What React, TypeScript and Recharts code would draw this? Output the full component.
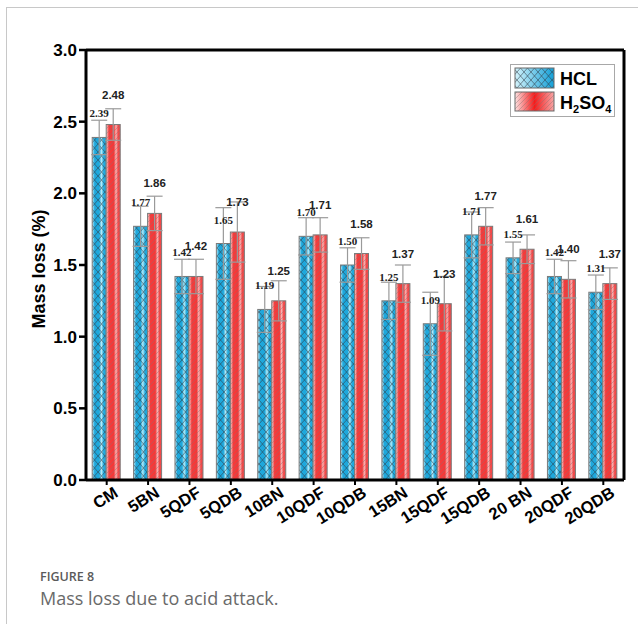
import React from 'react';
import { BarChart, Bar, XAxis, YAxis, ErrorBar, LabelList } from 'recharts';

// Mass loss (%) after acid attack, per mix
const categories = ['CM', '5BN', '5QDF', '5QDB', '10BN', '10QDF', '10QDB', '15BN', '15QDF', '15QDB', '20 BN', '20QDF', '20QDB'];
const hclValues = [2.39, 1.77, 1.42, 1.65, 1.19, 1.70, 1.50, 1.25, 1.09, 1.71, 1.55, 1.42, 1.31];
const h2so4Values = [2.48, 1.86, 1.42, 1.73, 1.25, 1.71, 1.58, 1.37, 1.23, 1.77, 1.61, 1.40, 1.37];
const hclErrors = [0.12, 0.14, 0.12, 0.25, 0.16, 0.13, 0.12, 0.13, 0.22, 0.16, 0.11, 0.12, 0.12];
const h2so4Errors = [0.11, 0.12, 0.12, 0.21, 0.14, 0.12, 0.11, 0.13, 0.19, 0.13, 0.10, 0.13, 0.11];
const yTicks = [0, 0.5, 1.0, 1.5, 2.0, 2.5, 3.0];

const data = categories.map((name, i) => ({
  name,
  hcl: hclValues[i],
  h2so4: h2so4Values[i],
  hclErr: hclErrors[i],
  h2so4Err: h2so4Errors[i],
}));

const SANS = 'Arial, "Liberation Sans", Helvetica, sans-serif';
const SERIF = '"Times New Roman", "Liberation Serif", serif';

const makeBarShape = (gradId: string, patternId: string) => (props: any) => {
  const { x, y, width, height } = props;
  if (!height || height <= 0) return <g />;
  return (
    <g>
      <rect x={x} y={y} width={width} height={height} fill={`url(#${gradId})`} />
      <rect x={x} y={y} width={width} height={height} fill={`url(#${patternId})`} />
      <rect x={x} y={y} width={width} height={height} fill="none" stroke="#7a7a7a" strokeWidth={1} />
    </g>
  );
};

const hclShape = makeBarShape('gradHcl', 'hatchHcl');
const h2so4Shape = makeBarShape('gradH2so4', 'hatchH2so4');

const hclLabel = (p: any) => (
  <text
    x={Number(p.x) + Number(p.width) / 2}
    y={Number(p.y) - 20}
    textAnchor="middle"
    fontFamily={SERIF}
    fontWeight={700}
    fontSize={11}
    fill="#222"
  >
    {Number(p.value).toFixed(2)}
  </text>
);

const h2so4Label = (p: any) => (
  <text
    x={Number(p.x) + Number(p.width) / 2}
    y={Number(p.y) - 26}
    textAnchor="middle"
    fontFamily={SANS}
    fontWeight={700}
    fontSize={11.5}
    fill="#222"
  >
    {Number(p.value).toFixed(2)}
  </text>
);

const XTick = (props: any) => {
  const { x, y, payload } = props;
  return (
    <g transform={`translate(${x},${y})`}>
      <text
        transform="rotate(-32)"
        x={6}
        y={14}
        textAnchor="end"
        fontFamily={SANS}
        fontWeight={700}
        fontSize={16.5}
        fill="#000"
      >
        {payload.value}
      </text>
    </g>
  );
};

const YLabel = (props: any) => {
  const vb = props.viewBox || { x: 0, y: 50, width: 86, height: 430 };
  const cx = vb.x + 40;
  const cy = vb.y + vb.height / 2 + 4;
  return (
    <text
      x={cx}
      y={cy}
      transform={`rotate(-90, ${cx}, ${cy})`}
      textAnchor="middle"
      dominantBaseline="middle"
      fontFamily={SANS}
      fontWeight={700}
      fontSize={18}
      fill="#000"
    >
      Mass loss (%)
    </text>
  );
};

const Defs = () => (
  <svg width={0} height={0} style={{ position: 'absolute' }}>
    <defs>
      <linearGradient id="gradHcl" x1="0" y1="0" x2="1" y2="0">
        <stop offset="0" stopColor="#c4eefa" />
        <stop offset="0.18" stopColor="#1ea8dc" />
        <stop offset="0.5" stopColor="#1ea8dc" />
        <stop offset="0.66" stopColor="#b3eaf8" />
        <stop offset="0.82" stopColor="#22aadd" />
        <stop offset="1" stopColor="#1ea8dc" />
      </linearGradient>
      <linearGradient id="gradH2so4" x1="0" y1="0" x2="1" y2="0">
        <stop offset="0" stopColor="#fcd8d8" />
        <stop offset="0.2" stopColor="#f43c3c" />
        <stop offset="0.55" stopColor="#f33838" />
        <stop offset="0.7" stopColor="#fab2b2" />
        <stop offset="0.85" stopColor="#f44848" />
        <stop offset="1" stopColor="#f44848" />
      </linearGradient>
      <linearGradient id="legendHcl" x1="0" y1="0" x2="1" y2="0">
        <stop offset="0" stopColor="#d4f3fb" />
        <stop offset="1" stopColor="#129fd7" />
      </linearGradient>
      <linearGradient id="legendH2so4" x1="0" y1="0" x2="1" y2="0">
        <stop offset="0" stopColor="#fde2e2" />
        <stop offset="0.5" stopColor="#f41c1c" />
        <stop offset="1" stopColor="#f8a6a6" />
      </linearGradient>
      <pattern id="hatchHcl" patternUnits="userSpaceOnUse" width={7} height={8}>
        <path d="M0,0 L7,8 M7,0 L0,8" stroke="#2e3c46" strokeWidth={0.7} strokeOpacity={0.8} fill="none" />
      </pattern>
      <pattern id="hatchH2so4" patternUnits="userSpaceOnUse" width={5} height={5}>
        <path d="M0,5 L5,0 M-1,1 L1,-1 M4,6 L6,4" stroke="#8a7070" strokeWidth={0.6} strokeOpacity={0.7} fill="none" />
      </pattern>
    </defs>
  </svg>
);

const Legend = () => (
  <div
    style={{
      position: 'absolute',
      left: 510,
      top: 64,
      width: 105,
      height: 53,
      border: '1px solid #a8a8a8',
      background: '#fff',
      boxSizing: 'border-box',
    }}
  >
    <svg width={105} height={53} style={{ position: 'absolute', left: -1, top: -1 }}>
      <rect x={5} y={4} width={39} height={20} fill="url(#legendHcl)" />
      <rect x={5} y={4} width={39} height={20} fill="url(#hatchHcl)" />
      <rect x={5} y={4} width={39} height={20} fill="none" stroke="#6a6a6a" strokeWidth={1} />
      <rect x={5} y={28} width={39} height={19} fill="url(#legendH2so4)" />
      <rect x={5} y={28} width={39} height={19} fill="url(#hatchH2so4)" />
      <rect x={5} y={28} width={39} height={19} fill="none" stroke="#6a6a6a" strokeWidth={1} />
      <text x={50} y={21} fontFamily={SANS} fontWeight={700} fontSize={18} fill="#000">HCL</text>
      <text x={50} y={45} fontFamily={SANS} fontWeight={700} fontSize={18} fill="#000">
        H
        <tspan fontSize={11} dy={4}>2</tspan>
        <tspan dy={-4}>SO</tspan>
        <tspan fontSize={11} dy={4}>4</tspan>
      </text>
    </svg>
  </div>
);

export default function App() {
  return (
    <div style={{ position: 'absolute', left: 0, top: 0, width: 638, height: 624, background: '#fff', overflow: 'hidden' }}>
      <Defs />
      {/* figure frame */}
      <div style={{ position: 'absolute', left: 6, top: 7, width: 632, height: 1, background: '#c8c8c8' }} />
      <div style={{ position: 'absolute', left: 6, top: 7, width: 1, height: 617, background: '#c8c8c8' }} />

      <div style={{ position: 'absolute', left: 0, top: 0 }}>
        <BarChart
          width={638}
          height={560}
          data={data}
          margin={{ top: 0, right: 0, left: 0, bottom: 20 }}
          barCategoryGap="15%"
          barGap={0}
        >
          <XAxis xAxisId="top" orientation="top" dataKey="name" height={50} tick={false} tickLine={false} axisLine={{ stroke: '#000', strokeWidth: 3 }} />
          <YAxis yAxisId="right" orientation="right" width={14} domain={[0, 3]} ticks={yTicks} tick={false} tickLine={false} axisLine={{ stroke: '#000', strokeWidth: 3 }} />
          <XAxis
            dataKey="name"
            height={60}
            interval={0}
            tick={<XTick />}
            tickSize={5}
            tickLine={{ stroke: '#000', strokeWidth: 2 }}
            axisLine={{ stroke: '#000', strokeWidth: 3 }}
          />
          <YAxis
            width={86}
            domain={[0, 3]}
            ticks={yTicks}
            interval={0}
            tickFormatter={(v: number) => v.toFixed(1)}
            tick={{ fontFamily: SANS, fontWeight: 700, fontSize: 17, fill: '#000' }}
            tickSize={7}
            tickMargin={2}
            tickLine={{ stroke: '#000', strokeWidth: 2.5 }}
            axisLine={{ stroke: '#000', strokeWidth: 3 }}
            label={<YLabel />}
          />
          <Bar dataKey="hcl" shape={hclShape} isAnimationActive={false}>
            <ErrorBar dataKey="hclErr" width={8} stroke="#9a9a9a" strokeWidth={1.2} direction="y" />
            <LabelList dataKey="hcl" content={hclLabel} />
          </Bar>
          <Bar dataKey="h2so4" shape={h2so4Shape} isAnimationActive={false}>
            <ErrorBar dataKey="h2so4Err" width={8} stroke="#9a9a9a" strokeWidth={1.2} direction="y" />
            <LabelList dataKey="h2so4" content={h2so4Label} />
          </Bar>
        </BarChart>
      </div>

      <Legend />

      {/* caption */}
      <div style={{ position: 'absolute', left: 40, top: 569, lineHeight: '16px', fontFamily: '"Open Sans", Lato, sans-serif', fontSize: 12.5, fontWeight: 600, color: '#5a5a5a' }}>
        FIGURE 8
      </div>
      <div style={{ position: 'absolute', left: 40, top: 587, lineHeight: '22px', fontFamily: '"Open Sans", Lato, sans-serif', fontSize: 18, fontWeight: 400, color: '#6a6a6a' }}>
        Mass loss due to acid attack.
      </div>
    </div>
  );
}
